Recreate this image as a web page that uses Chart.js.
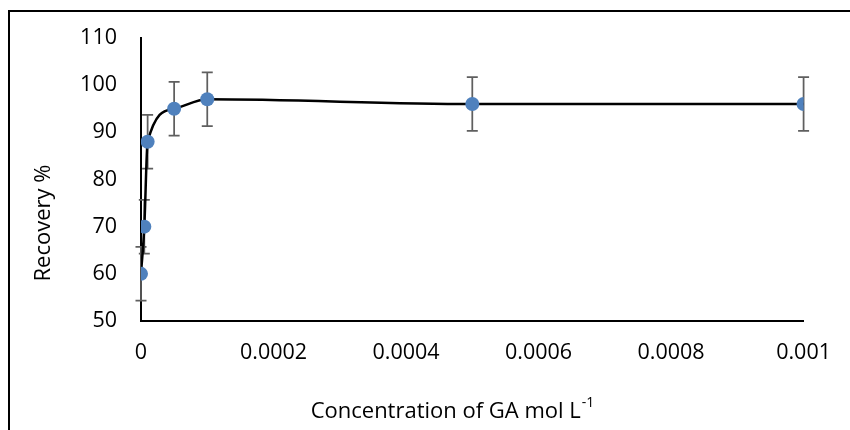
<!DOCTYPE html>
<html>
<head>
<meta charset="utf-8">
<script src="https://cdn.jsdelivr.net/npm/chart.js@4/dist/chart.umd.min.js"></script>
<style>
  html, body { margin: 0; padding: 0; background: #fff; }
  #wrap { width: 850px; height: 430px; }
</style>
</head>
<body>
<div id="wrap"><canvas id="chart"></canvas></div>
<script>
// concentration of GA (mol/L) and recovery %
const concentrations = [0, 0.000005, 0.00001, 0.00005, 0.0001, 0.0005, 0.001];
const recovery = [60, 70, 88, 95, 97, 96, 96];
const recoveryErr = [5.7, 5.7, 5.7, 5.7, 5.7, 5.7, 5.7];
const xTicks = [0, 0.0002, 0.0004, 0.0006, 0.0008, 0.001];
const yTicks = [50, 60, 70, 80, 90, 100, 110];

const xTitle = 'Concentration of GA mol L';
const xTitleSup = '-1';
const yTitle = 'Recovery %';

const FONT = '"Open Sans", sans-serif';

// frame + axis titles
const decor = {
    id: 'decor',
    beforeDraw(chart) {
        const c = chart.ctx;
        c.save();
        c.strokeStyle = '#000';
        c.lineWidth = 2;
        c.beginPath();
        c.moveTo(9, 460);
        c.lineTo(9, 11);
        c.lineTo(880, 11);
        c.stroke();
        c.restore();
    },
    afterDraw(chart) {
        const c = chart.ctx;
        c.save();
        c.fillStyle = '#000';
        c.textBaseline = 'middle';
        // x title with superscript
        c.font = '22px ' + FONT;
        const w1 = c.measureText(xTitle).width;
        c.font = '14px ' + FONT;
        const w2 = c.measureText(xTitleSup).width;
        let x0 = 452 - (w1 + w2) / 2;
        c.font = '22px ' + FONT;
        c.textAlign = 'left';
        c.fillText(xTitle, x0, 412);
        c.font = '14px ' + FONT;
        c.fillText(xTitleSup, x0 + w1 + 1, 403);
        // y title
        c.translate(44, 223);
        c.rotate(-Math.PI / 2);
        c.font = '22px ' + FONT;
        c.textAlign = 'center';
        c.fillText(yTitle, 0, 0);
        c.restore();
    }
};

// vertical error bars, drawn under the points
const errorBars = {
    id: 'errorBars',
    beforeDatasetsDraw(chart) {
        const c = chart.ctx;
        const xs = chart.scales.x, ys = chart.scales.y;
        c.save();
        c.strokeStyle = '#5f5f5f';
        c.lineWidth = 1.75;
        concentrations.forEach((v, i) => {
            const px = xs.getPixelForValue(v);
            const top = ys.getPixelForValue(recovery[i] + recoveryErr[i]);
            const bot = ys.getPixelForValue(recovery[i] - recoveryErr[i]);
            c.beginPath();
            c.moveTo(px, top); c.lineTo(px, bot);
            c.moveTo(px - 5.5, top); c.lineTo(px + 5.5, top);
            c.moveTo(px - 5.5, bot); c.lineTo(px + 5.5, bot);
            c.stroke();
        });
        c.restore();
    }
};

const ctx = document.getElementById('chart');
new Chart(ctx, {
    type: 'scatter',
    data: {
        datasets: [{
            data: concentrations.map((x, i) => ({ x: x, y: recovery[i] })),
            showLine: true,
            borderColor: '#000',
            borderWidth: 2.5,
            cubicInterpolationMode: 'monotone',
            pointRadius: 7,
            pointHoverRadius: 7,
            pointBackgroundColor: '#4f81bd',
            pointBorderColor: '#4f81bd',
            pointBorderWidth: 0
        }]
    },
    options: {
        responsive: true,
        maintainAspectRatio: false,
        animation: false,
        layout: { padding: { left: 0, top: 38, right: 44, bottom: 0 } },
        plugins: {
            legend: { display: false },
            tooltip: { enabled: false }
        },
        scales: {
            x: {
                type: 'linear',
                min: 0, max: 0.001,
                afterBuildTicks: s => { s.ticks = xTicks.map(v => ({ value: v })); },
                afterFit: s => { s.height = 109; },
                grid: { display: false, drawTicks: false },
                border: { color: '#000', width: 2 },
                ticks: {
                    padding: 19,
                    color: '#000',
                    font: { family: FONT, size: 21.5 },
                    maxRotation: 0,
                    callback: v => String(+v.toFixed(4))
                }
            },
            y: {
                min: 50, max: 110,
                afterBuildTicks: s => { s.ticks = yTicks.map(v => ({ value: v })); },
                afterFit: s => { s.width = 141; },
                grid: { display: false, drawTicks: false },
                border: { color: '#000', width: 2 },
                ticks: {
                    padding: 24,
                    color: '#000',
                    font: { family: FONT, size: 21.5 }
                }
            }
        }
    },
    plugins: [decor, errorBars]
});
</script>
</body>
</html>
